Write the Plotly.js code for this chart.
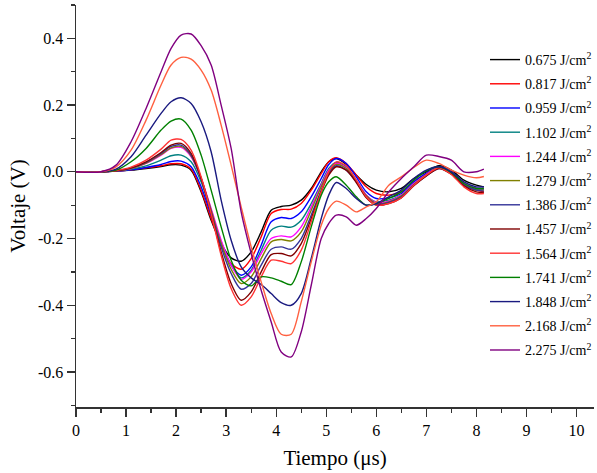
<!DOCTYPE html>
<html>
<head>
<meta charset="utf-8">
<script src="https://cdn.plot.ly/plotly-3.0.1.min.js"></script>
<style>
html,body{margin:0;padding:0;background:#fff;}
#chart{width:597px;height:473px;}
</style>
</head>
<body>
<div id="chart"></div>
<script>
// Time axis (µs) shared by all series
const tiempo = [0, 0.5, 0.8, 1.1, 1.4, 1.7, 1.9, 2.1, 2.3, 2.5, 2.7, 2.9, 3.1, 3.3, 3.5, 3.7, 3.9, 4.1, 4.3, 4.5, 4.7, 4.9, 5.05, 5.2, 5.4, 5.6, 5.8, 6.0, 6.25, 6.5, 6.75, 7.0, 7.25, 7.5, 7.75, 8.0, 8.15];

// Legend labels
const labels = ["0.675", "0.817", "0.959", "1.102", "1.244", "1.279", "1.386", "1.457", "1.564", "1.741", "1.848", "2.168", "2.275"];

// Voltage series (V)
const v0675 = [0, 0, 0.002, 0.005, 0.010, 0.016, 0.021, 0.020, 0.005, -0.060, -0.145, -0.215, -0.258, -0.268, -0.240, -0.180, -0.115, -0.104, -0.100, -0.085, -0.050, 0.000, 0.030, 0.040, 0.022, -0.010, -0.038, -0.055, -0.060, -0.050, -0.020, 0.000, 0.018, 0.005, -0.025, -0.040, -0.045];
const v0817 = [0, 0, 0.002, 0.006, 0.012, 0.018, 0.024, 0.024, 0.008, -0.055, -0.140, -0.220, -0.275, -0.292, -0.260, -0.195, -0.125, -0.113, -0.112, -0.095, -0.055, -0.005, 0.030, 0.042, 0.025, -0.010, -0.045, -0.065, -0.070, -0.060, -0.030, -0.005, 0.015, 0.000, -0.035, -0.055, -0.060];
const v0959 = [0, 0, 0.002, 0.006, 0.013, 0.022, 0.031, 0.032, 0.015, -0.045, -0.130, -0.215, -0.280, -0.310, -0.285, -0.220, -0.150, -0.137, -0.140, -0.120, -0.075, -0.020, 0.022, 0.040, 0.025, -0.015, -0.060, -0.080, -0.078, -0.065, -0.030, -0.005, 0.015, 0.000, -0.035, -0.050, -0.052];
const v1102 = [0, 0, 0.003, 0.008, 0.018, 0.035, 0.048, 0.050, 0.030, -0.030, -0.120, -0.210, -0.280, -0.318, -0.295, -0.235, -0.175, -0.163, -0.166, -0.145, -0.095, -0.035, 0.010, 0.028, 0.015, -0.025, -0.070, -0.090, -0.085, -0.070, -0.035, -0.008, 0.013, -0.003, -0.035, -0.050, -0.050];
const v1244 = [0, 0, 0.003, 0.010, 0.025, 0.050, 0.070, 0.073, 0.045, -0.020, -0.110, -0.205, -0.280, -0.322, -0.300, -0.245, -0.200, -0.192, -0.195, -0.165, -0.105, -0.040, 0.005, 0.025, 0.012, -0.025, -0.070, -0.092, -0.088, -0.070, -0.035, -0.008, 0.013, -0.003, -0.035, -0.050, -0.050];
const v1279 = [0, 0, 0.003, 0.010, 0.026, 0.052, 0.072, 0.076, 0.048, -0.020, -0.115, -0.215, -0.292, -0.335, -0.315, -0.260, -0.210, -0.203, -0.207, -0.180, -0.115, -0.045, 0.000, 0.022, 0.010, -0.028, -0.072, -0.095, -0.090, -0.072, -0.038, -0.010, 0.012, -0.005, -0.038, -0.055, -0.055];
const v1386 = [0, 0, 0.003, 0.011, 0.028, 0.055, 0.076, 0.080, 0.050, -0.020, -0.120, -0.225, -0.305, -0.352, -0.335, -0.280, -0.232, -0.225, -0.232, -0.200, -0.130, -0.055, -0.005, 0.018, 0.005, -0.030, -0.075, -0.098, -0.092, -0.075, -0.040, -0.012, 0.010, -0.005, -0.040, -0.055, -0.058];
const v1457 = [0, 0, 0.003, 0.012, 0.030, 0.058, 0.080, 0.085, 0.055, -0.020, -0.125, -0.240, -0.335, -0.385, -0.360, -0.300, -0.248, -0.245, -0.252, -0.215, -0.140, -0.060, -0.010, 0.015, 0.005, -0.032, -0.078, -0.100, -0.095, -0.078, -0.042, -0.012, 0.010, -0.007, -0.042, -0.060, -0.062];
const v1564 = [0, 0, 0.004, 0.014, 0.035, 0.068, 0.095, 0.097, 0.065, -0.015, -0.125, -0.250, -0.350, -0.400, -0.375, -0.315, -0.265, -0.268, -0.275, -0.235, -0.150, -0.060, 0.000, 0.030, 0.018, -0.025, -0.075, -0.100, -0.095, -0.078, -0.040, -0.010, 0.012, -0.008, -0.045, -0.065, -0.065];
const v1741 = [0, 0, 0.005, 0.030, 0.070, 0.125, 0.152, 0.158, 0.125, 0.050, -0.055, -0.165, -0.265, -0.325, -0.342, -0.315, -0.318, -0.328, -0.338, -0.270, -0.165, -0.070, -0.030, -0.015, -0.040, -0.075, -0.100, -0.095, -0.080, -0.060, -0.025, 0.003, 0.015, -0.002, -0.035, -0.050, -0.050];
const v1848 = [0, 0, 0.008, 0.045, 0.110, 0.175, 0.210, 0.222, 0.205, 0.150, 0.060, -0.085, -0.205, -0.285, -0.318, -0.338, -0.365, -0.392, -0.400, -0.365, -0.260, -0.140, -0.070, -0.032, -0.050, -0.080, -0.100, -0.095, -0.075, -0.055, -0.020, 0.005, 0.015, 0.000, -0.030, -0.045, -0.045];
const v2168 = [0, 0, 0.015, 0.065, 0.155, 0.260, 0.320, 0.343, 0.338, 0.305, 0.245, 0.140, 0.020, -0.105, -0.225, -0.330, -0.425, -0.487, -0.487, -0.390, -0.270, -0.160, -0.110, -0.088, -0.100, -0.120, -0.105, -0.090, -0.040, -0.015, 0.013, 0.035, 0.025, 0.005, -0.010, -0.018, -0.014];
const v2275 = [0, 0, 0.020, 0.090, 0.190, 0.300, 0.370, 0.410, 0.413, 0.378, 0.320, 0.200, 0.070, -0.120, -0.245, -0.355, -0.450, -0.540, -0.555, -0.480, -0.340, -0.200, -0.155, -0.130, -0.135, -0.160, -0.140, -0.110, -0.060, -0.020, 0.015, 0.050, 0.046, 0.035, 0.000, 0.000, 0.008];

const series = [v0675, v0817, v0959, v1102, v1244, v1279, v1386, v1457, v1564, v1741, v1848, v2168, v2275];
const colors = ["#000000", "#FF0000", "#0000FF", "#008080", "#FF00FF", "#808000", "#333399", "#800000", "#FF3333", "#008000", "#1A1A80", "#FF6040", "#800080"];

const traces = series.map((ys, i) => ({
  x: tiempo,
  y: ys,
  type: "scatter",
  mode: "lines",
  name: labels[i] + " J/cm<sup>2</sup>",
  legendgroup: "g" + i,
  line: {color: colors[i], width: 1.4, shape: "spline", smoothing: 0.8}
}));

const fontFam = "Liberation Serif, Times New Roman, serif";

const layout = {
  width: 597,
  height: 473,
  margin: {l: 76, r: 0, t: 5, b: 66},
  paper_bgcolor: "#fff",
  plot_bgcolor: "#fff",
  font: {family: fontFam, color: "#000"},
  showlegend: true,
  legend: {
    x: 0.79, xanchor: "left",
    y: 0.903, yanchor: "top",
    bgcolor: "rgba(0,0,0,0)",
    font: {family: fontFam, size: 14, color: "#000"},
    tracegroupgap: 3
  },
  xaxis: {
    range: [0, 10.35],
    tickvals: [0,1,2,3,4,5,6,7,8,9,10],
    ticks: "outside", ticklen: 8, tickwidth: 1.3, tickcolor: "#333",
    minor: {dtick: 0.5, ticks: "outside", ticklen: 4, tickwidth: 1.3, tickcolor: "#333"},
    showline: true, linecolor: "#333", linewidth: 1.5,
    showgrid: false, zeroline: false,
    tickfont: {family: fontFam, size: 16, color: "#000"},
    title: {text: "Tiempo (μs)", font: {family: fontFam, size: 21, color: "#000"}, standoff: 12}
  },
  yaxis: {
    range: [-0.705, 0.5],
    tickvals: [-0.6, -0.4, -0.2, 0, 0.2, 0.4],
    ticktext: ["-0.6", "-0.4", "-0.2", "0.0", "0.2", "0.4"],
    ticks: "outside", ticklen: 8, tickwidth: 1.3, tickcolor: "#333",
    minor: {dtick: 0.1, ticks: "outside", ticklen: 4, tickwidth: 1.3, tickcolor: "#333"},
    showline: true, linecolor: "#333", linewidth: 1.5,
    showgrid: false, zeroline: false,
    tickfont: {family: fontFam, size: 16, color: "#000"},
    title: {text: "Voltaje (V)", font: {family: fontFam, size: 21, color: "#000"}, standoff: 6}
  }
};

Plotly.newPlot("chart", traces, layout, {displayModeBar: false, staticPlot: true});
</script>
</body>
</html>
